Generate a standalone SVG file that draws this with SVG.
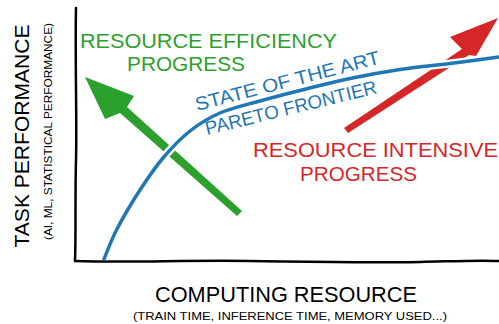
<svg xmlns="http://www.w3.org/2000/svg" width="499" height="324" viewBox="0 0 499 324">
<style>
text { font-family: "Liberation Sans", Arial, sans-serif; }
.axis { fill: none; stroke: #000; stroke-width: 2.5; stroke-linecap: round; }
.ax { fill: #000; }
.g { fill: #2ca02c; }
.r { fill: #d62728; }
.b { fill: #1f77b4; }
.halo { fill: none; stroke: #fff; stroke-width: 8; }
.curve { fill: none; stroke: #1f77b4; stroke-width: 3.5; stroke-linecap: round; }
</style>
<defs>
  <path id="frontier" d="M104,259 C106.2,254 111,240.5 117,229 C123,217.5 132.3,201.8 140,190 C147.7,178.2 154.7,167.8 163,158 C171.3,148.2 180.5,138.5 190,131 C199.5,123.5 208.3,118 220,113 C231.7,108 246.7,104.75 260,101 C273.3,97.25 285,94.25 300,90.5 C315,86.75 333.3,82 350,78.5 C366.7,75 383.3,72 400,69.5 C416.7,67 433.5,65.6 450,63.5 C466.5,61.6 490.8,58 499,57"/>
</defs>
<rect width="499" height="324" fill="#fff"/>
<g id="axes">
  <path class="axis" d="M76,8 C75,60 77,120 76,160 C75,200 76,235 75,261"/>
  <path class="axis" d="M75,261 C130,263 180,260 250,261 C320,262 360,263 420,262 C460,261 480,260 499,261"/>
</g>
<g id="y-label">
  <text class="ax" font-size="20" text-anchor="middle" textLength="223" lengthAdjust="spacingAndGlyphs" transform="translate(29,136) rotate(-90)">TASK PERFORMANCE</text>
  <text class="ax" font-size="11" text-anchor="middle" textLength="217" lengthAdjust="spacingAndGlyphs" transform="translate(52,131.5) rotate(-90)">(AI, ML, STATISTICAL PERFORMANCE)</text>
</g>
<g id="x-label">
  <text class="ax" font-size="22" text-anchor="middle" x="286" y="302" textLength="262" lengthAdjust="spacingAndGlyphs">COMPUTING RESOURCE</text>
  <text class="ax" font-size="11" text-anchor="middle" x="290" y="320" textLength="314" lengthAdjust="spacingAndGlyphs">(TRAIN TIME, INFERENCE TIME, MEMORY USED...)</text>
</g>
<g id="arrows">
  <path id="green-arrow" class="g" d="M85,77 L105,119 L120,113 L237,216 L242,211 L127,107 L134,96 Z"/>
  <path id="red-arrow" class="r" d="M498,18 L450,37 L462,49 L344,128 L348,133 L469,55 L476,56 Z"/>
</g>
<g id="pareto-frontier">
  <use href="#frontier" class="halo"/>
  <use href="#frontier" class="curve"/>
</g>
<g id="label-efficiency">
  <text class="g" font-size="20" x="80" y="48" textLength="257" lengthAdjust="spacingAndGlyphs">RESOURCE EFFICIENCY</text>
  <text class="g" font-size="20" x="127" y="71" textLength="118" lengthAdjust="spacingAndGlyphs">PROGRESS</text>
</g>
<g id="label-frontier">
  <text class="b" font-size="19" textLength="190" lengthAdjust="spacingAndGlyphs" transform="translate(197,111) rotate(-14.5)">STATE OF THE ART</text>
  <text class="b" font-size="19" textLength="176" lengthAdjust="spacingAndGlyphs" transform="translate(207,135) rotate(-13.8)">PARETO FRONTIER</text>
</g>
<g id="label-intensive">
  <text class="r" font-size="20" x="253" y="157" textLength="245" lengthAdjust="spacingAndGlyphs">RESOURCE INTENSIVE</text>
  <text class="r" font-size="20" x="300" y="181" textLength="117" lengthAdjust="spacingAndGlyphs">PROGRESS</text>
</g>
</svg>
